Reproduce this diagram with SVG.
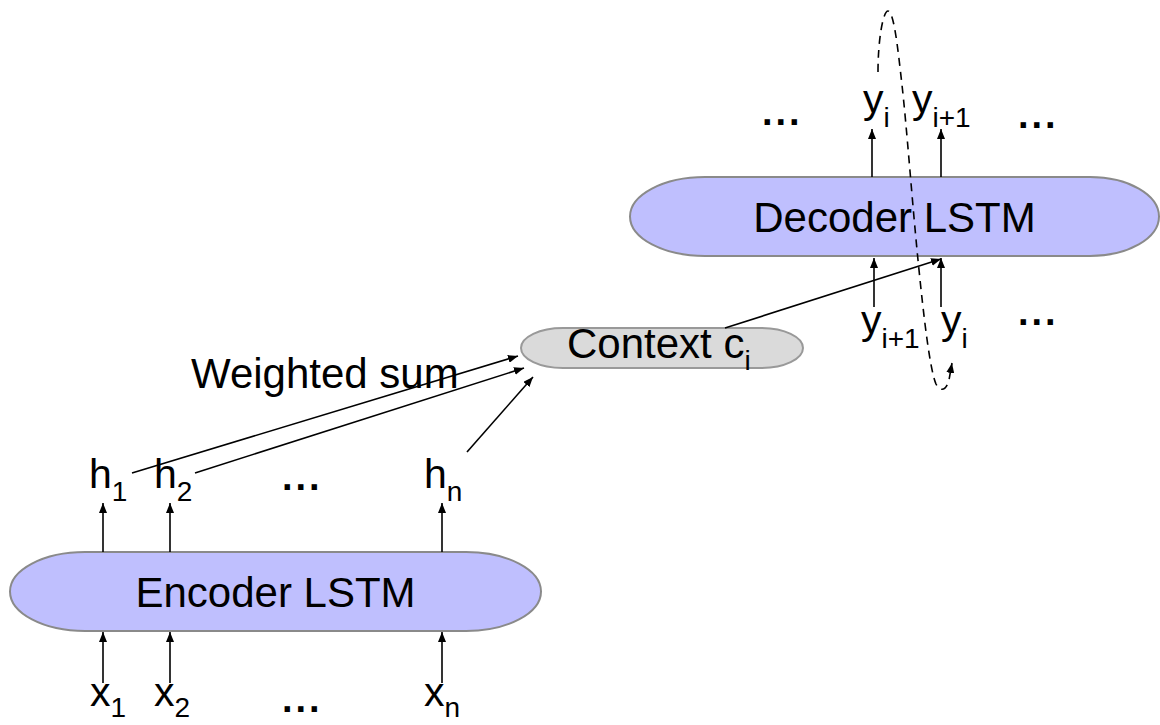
<svg xmlns="http://www.w3.org/2000/svg" width="1160" height="725" viewBox="0 0 1160 725">
<style>
.lstm{fill:#bfbffe;stroke:#8a8a8a;stroke-width:2}
.ctx{fill:#dadada;stroke:#999;stroke-width:2}
text{font-family:"Liberation Sans",Arial,Helvetica,sans-serif;fill:#000}
.big{font-size:42px}
.lbl{font-size:41px}
.sub{font-size:28px}
.dots{font-size:38px;font-weight:bold;letter-spacing:3px}
.conn line,.conn path{stroke:#000;stroke-width:1.6;fill:none}
.dash{stroke-dasharray:8 6}
</style>
<defs>
<marker id="ah" viewBox="0 0 10 8" refX="10" refY="4" markerWidth="10" markerHeight="8" markerUnits="userSpaceOnUse" orient="auto">
<path d="M0,0 L10,4 L0,8 z" fill="#000"/>
</marker>
</defs>
<rect width="1160" height="725" fill="#fff"/>

<g id="encoder">
<path class="lstm" d="M85,552 H466 A75,39.5 0 0 1 466,631 H85 A75,39.5 0 0 1 85,552 Z"/>
<text class="big" x="275.5" y="607" text-anchor="middle">Encoder LSTM</text>
</g>
<g id="decoder">
<path class="lstm" d="M705,177 H1090 A69,39.5 0 0 1 1090,256 H705 A75,39.5 0 0 1 705,177 Z"/>
<text class="big" x="894.5" y="232" text-anchor="middle">Decoder LSTM</text>
</g>
<g id="context">
<path class="ctx" d="M563,328 H761 A42,20 0 0 1 761,368 H563 A42,20 0 0 1 563,328 Z"/>
<text class="big" x="567" y="358">Context c<tspan class="sub" dy="12">i</tspan></text>
</g>

<g id="inputs">
<text class="lbl" x="90" y="706">x<tspan class="sub" dy="11">1</tspan></text>
<text class="lbl" x="154" y="706">x<tspan class="sub" dy="11">2</tspan></text>
<text class="dots" x="282" y="712">...</text>
<text class="lbl" x="424" y="706">x<tspan class="sub" dy="11">n</tspan></text>
</g>
<g id="hidden">
<text class="lbl" x="89" y="488">h<tspan class="sub" dy="13">1</tspan></text>
<text class="lbl" x="154" y="488">h<tspan class="sub" dy="13">2</tspan></text>
<text class="dots" x="282" y="490">...</text>
<text class="lbl" x="424" y="488">h<tspan class="sub" dy="13">n</tspan></text>
</g>
<g id="weighted-sum">
<text class="big" x="191" y="388">Weighted sum</text>
</g>
<g id="outputs">
<text class="dots" x="762" y="125">...</text>
<text class="lbl" x="863" y="113">y<tspan class="sub" dy="14">i</tspan></text>
<text class="lbl" x="912" y="113">y<tspan class="sub" dy="14">i+1</tspan></text>
<text class="dots" x="1018" y="128">...</text>
</g>
<g id="dec-inputs">
<text class="lbl" x="861" y="334">y<tspan class="sub" dy="14">i+1</tspan></text>
<text class="lbl" x="941" y="334">y<tspan class="sub" dy="14">i</tspan></text>
<text class="dots" x="1018" y="325">...</text>
</g>

<g id="connectors" class="conn">
<line x1="103" y1="683" x2="103" y2="632" marker-end="url(#ah)"/>
<line x1="170" y1="683" x2="170" y2="632" marker-end="url(#ah)"/>
<line x1="442" y1="683" x2="442" y2="632" marker-end="url(#ah)"/>
<line x1="103" y1="552" x2="103" y2="503" marker-end="url(#ah)"/>
<line x1="170" y1="552" x2="170" y2="503" marker-end="url(#ah)"/>
<line x1="442" y1="552" x2="442" y2="503" marker-end="url(#ah)"/>
<line x1="132" y1="473" x2="518" y2="356" marker-end="url(#ah)"/>
<line x1="195" y1="473" x2="524" y2="368" marker-end="url(#ah)"/>
<line x1="467" y1="452" x2="533" y2="377" marker-end="url(#ah)"/>
<line x1="725" y1="328" x2="941" y2="259" marker-end="url(#ah)"/>
<line x1="872" y1="177" x2="872" y2="129" marker-end="url(#ah)"/>
<line x1="941" y1="177" x2="941" y2="129" marker-end="url(#ah)"/>
<line x1="874" y1="307" x2="874" y2="258" marker-end="url(#ah)"/>
<line x1="941" y1="307" x2="941" y2="258" marker-end="url(#ah)"/>
<path class="dash" d="M878,72 C878,40 883,11 888,11 C894,11 898,50 902,85 C907,130 912,200 918,260 C924,320 930,370 936,384 C940,392 946,391 949,380 L952,363" marker-end="url(#ah)"/>
</g>
</svg>
